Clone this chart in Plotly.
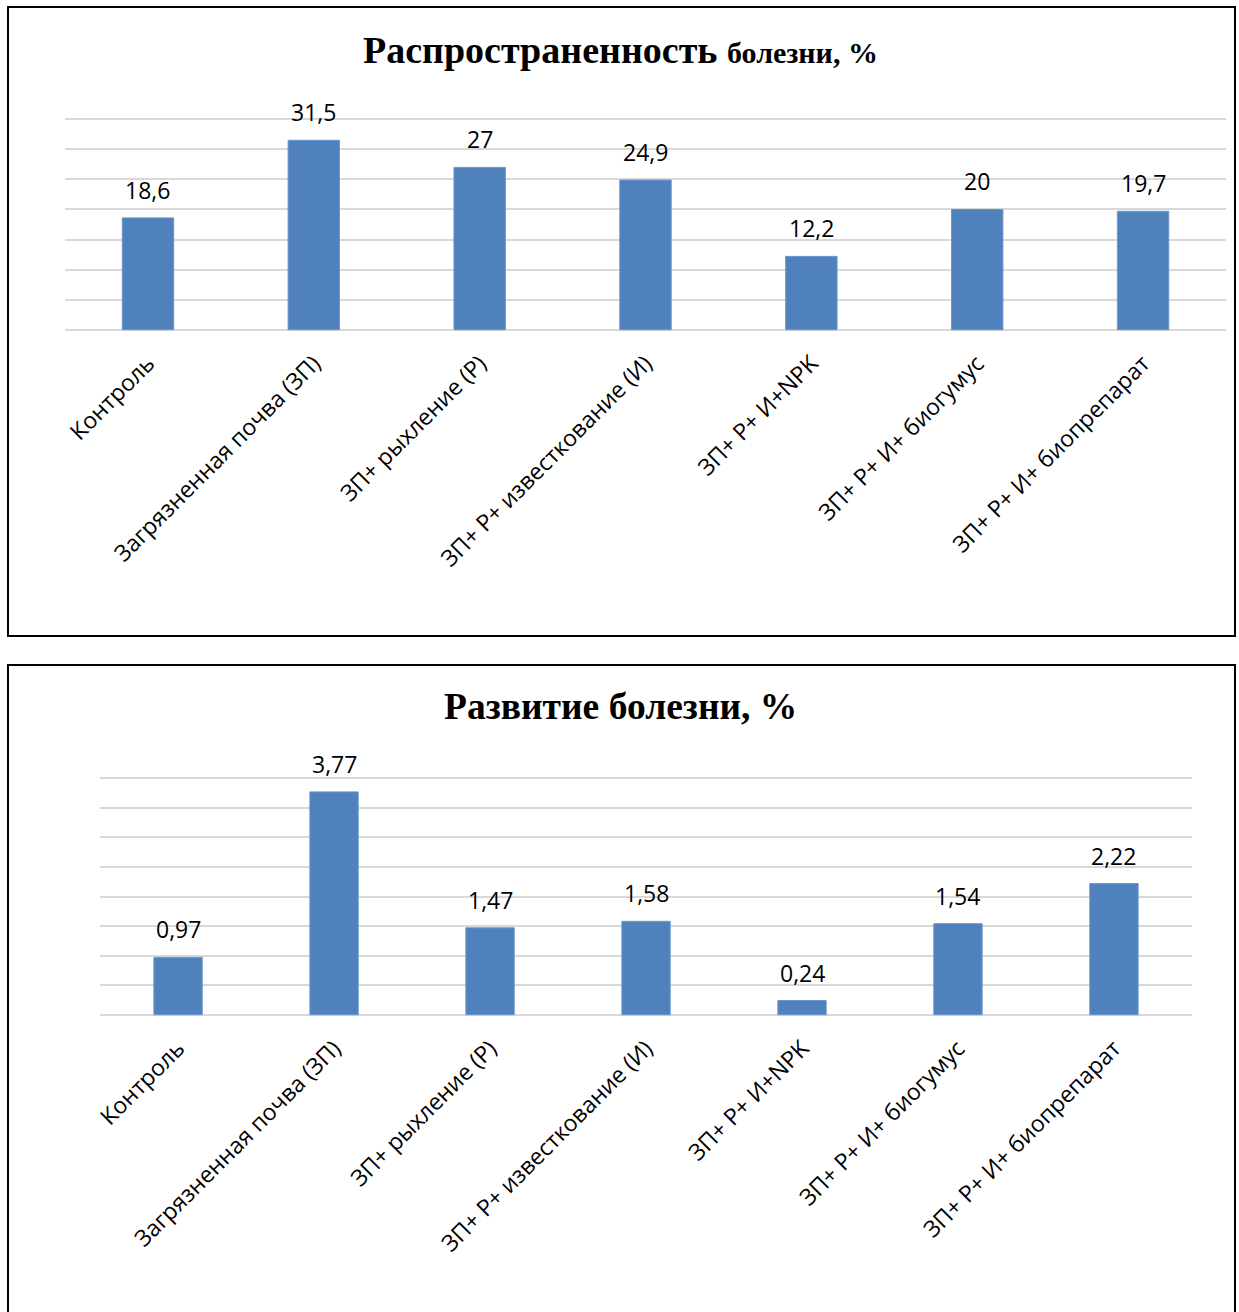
import plotly.graph_objects as go

categories = ["Контроль", "Загрязненная почва (ЗП)", "ЗП+ рыхление (Р)",
              "ЗП+ Р+ известкование (И)", "ЗП+ Р+ И+NPK", "ЗП+ Р+ И+ биогумус",
              "ЗП+ Р+ И+ биопрепарат"]
prevalence = [18.6, 31.5, 27, 24.9, 12.2, 20, 19.7]
prevalence_labels = ["18,6", "31,5", "27", "24,9", "12,2", "20", "19,7"]
development = [0.97, 3.77, 1.47, 1.58, 0.24, 1.54, 2.22]
development_labels = ["0,97", "3,77", "1,47", "1,58", "0,24", "1,54", "2,22"]

W, H = 1239, 1312
X0, XW = 8, 1231   # observed effective horizontal placement of the figure
BAR = "#4F81BD"
GRID = "#D9D9D9"
LABEL_FONT = dict(family="Open Sans", size=23, color="#000000")

def fx(px):
    return (px - X0) / XW

def fy(py):
    return 1 - py / H

fig = go.Figure()
fig.add_trace(go.Bar(x=categories, y=prevalence, marker=dict(color=BAR, line=dict(color="#6C97CB", width=1)),
                     xaxis="x", yaxis="y", hoverinfo="skip"))
fig.add_trace(go.Bar(x=categories, y=development, marker=dict(color=BAR, line=dict(color="#6C97CB", width=1)),
                     xaxis="x2", yaxis="y2", hoverinfo="skip"))

annotations = []
for c, v, t in zip(categories, prevalence, prevalence_labels):
    annotations.append(dict(x=c, y=v, xref="x", yref="y", text=t, showarrow=False,
                            yanchor="bottom", yshift=10, font=LABEL_FONT))
for c, v, t in zip(categories, development, development_labels):
    annotations.append(dict(x=c, y=v, xref="x2", yref="y2", text=t, showarrow=False,
                            yanchor="bottom", yshift=10, font=LABEL_FONT))

annotations.append(dict(x=fx(621), y=fy(50), xref="paper", yref="paper", showarrow=False,
                        xanchor="center", yanchor="middle",
                        text="<b>Распространенность <span style='font-size:30px'>болезни, %</span></b>",
                        font=dict(family="Liberation Serif", size=38, color="#000000")))
annotations.append(dict(x=fx(621), y=fy(707), xref="paper", yref="paper", showarrow=False,
                        xanchor="center", yanchor="middle",
                        text="<b>Развитие болезни, %</b>",
                        font=dict(family="Liberation Serif", size=37.5, color="#000000")))

shapes = [
    dict(type="rect", xref="paper", yref="paper", x0=fx(9), x1=fx(1235), y0=fy(636), y1=fy(7),
         line=dict(color="#000000", width=2), fillcolor="rgba(0,0,0,0)", layer="above"),
    dict(type="rect", xref="paper", yref="paper", x0=fx(9), x1=fx(1235), y0=fy(1330), y1=fy(665),
         line=dict(color="#000000", width=2), fillcolor="rgba(0,0,0,0)", layer="above"),
]

axis_common = dict(showgrid=True, gridcolor=GRID, gridwidth=1.5, zeroline=False, showline=False,
                   showticklabels=False, fixedrange=True)
xaxis_common = dict(showgrid=False, zeroline=False, showline=False, tickangle=-45,
                    tickfont=LABEL_FONT, ticks="outside", ticklen=9, tickcolor="rgba(0,0,0,0)",
                    fixedrange=True, type="category")

pad1 = 0.2   # units of y (6 px per unit)
pad2 = 0.02  # units of y2 (59 px per unit)

fig.update_layout(
    width=W, height=H,
    margin=dict(l=0, r=0, t=0, b=0),
    paper_bgcolor="white", plot_bgcolor="white",
    showlegend=False,
    bargap=0.69,
    xaxis=dict(domain=[fx(66), fx(1226)], anchor="y", **xaxis_common),
    yaxis=dict(domain=[fy(329.7 + pad1 * 6), fy(119.3 - pad1 * 6)], range=[-pad1, 35 + pad1],
               tick0=0, dtick=5, anchor="x", **axis_common),
    xaxis2=dict(domain=[fx(101), fx(1192)], anchor="y2", **xaxis_common),
    yaxis2=dict(domain=[fy(1014.7 + pad2 * 59), fy(778.3 - pad2 * 59)], range=[-pad2, 4 + pad2],
                tick0=0, dtick=0.5, anchor="x2", **axis_common),
    annotations=annotations,
    shapes=shapes,
)

fig.write_html("out.html")
